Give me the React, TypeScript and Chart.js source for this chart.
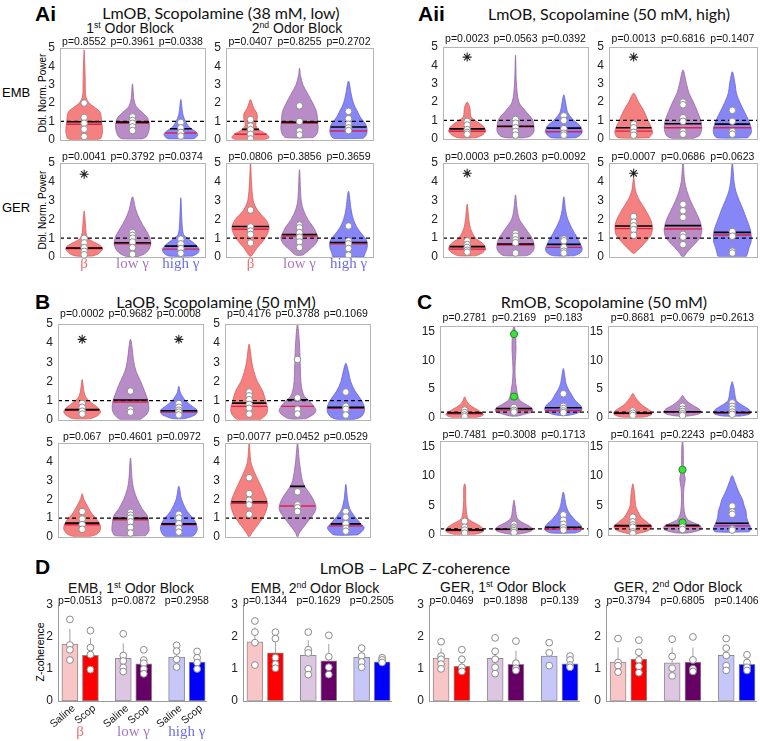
import React, { useEffect, useRef } from "react";
import { Chart, registerables } from "chart.js";

Chart.register(...registerables);

const SANS = "'Liberation Sans', Arial, Helvetica, sans-serif";
const SERIF = "'Liberation Serif', 'Times New Roman', serif";
const TITLE = "Lato, 'Open Sans', sans-serif";
Chart.defaults.font.family = SANS;
Chart.defaults.color = "#222";

// ---------------- data ----------------
const violinCats = [1, 2, 3];
const bandLabels = ["β", "low γ", "high γ"];
const violinTicks = [0, 1, 2, 3, 4, 5];
const rmobTicks = [0, 5, 10, 15];
const barTicks = [0, 1, 2, 3];

// subplot order in each panel: EMB 1st, EMB 2nd, GER 1st, GER 2nd
const aiP = [[0.8552, 0.3961, 0.0338], [0.0407, 0.8255, 0.2702], [0.0041, 0.3792, 0.0374], [0.0806, 0.3856, 0.3659]];
const aiiP = [[0.0023, 0.0563, 0.0392], [0.0013, 0.6816, 0.1407], [0.0003, 0.2603, 0.0092], [0.0007, 0.0686, 0.0623]];
const bP = [[0.0002, 0.9682, 0.0008], [0.4176, 0.3788, 0.1069], [0.067, 0.4601, 0.0972], [0.0077, 0.0452, 0.0529]];
const cP = [[0.2781, 0.2169, 0.183], [0.8681, 0.0679, 0.2613], [0.7481, 0.3008, 0.1713], [0.1641, 0.2243, 0.0483]];

const aiMeans = [[0.98, 0.96, 0.6], [0.57, 0.96, 0.7], [0.48, 0.76, 0.58], [1.62, 1.2, 0.77]];
const aiMedians = [[0.85, 0.9, 0.37], [0.3, 0.9, 0.48], [0.45, 0.7, 0.42], [1.48, 1.12, 0.7]];
const aiiMeans = [[0.54, 0.68, 0.58], [0.6, 0.82, 0.8], [0.54, 0.68, 0.66], [1.64, 1.66, 1.3]];
const aiiMedians = [[0.41, 0.65, 0.38], [0.42, 0.6, 0.6], [0.41, 0.62, 0.5], [1.5, 1.48, 1.16]];
const bMeans = [[0.53, 1.03, 0.47], [0.87, 1.05, 0.65], [0.73, 0.98, 0.69], [1.87, 2.69, 0.69]];
const bMedians = [[0.5, 0.93, 0.4], [0.7, 0.7, 0.6], [0.64, 0.9, 0.64], [1.78, 1.64, 0.58]];
const cMeans = [[0.87, 1.63, 1.74], [0.81, 1.05, 0.93], [0.84, 0.95, 1.3], [1.57, 1.6, 1.97]];
const cMedians = [[0.7, 1.34, 1.28], [0.75, 1.0, 0.82], [0.73, 0.9, 1.0], [1.4, 1.45, 1.52]];

const aiPoints = [
  [[2.0, 1.22, 0.9, 0.58, 0.18], [1.25, 1.05, 0.9, 0.7, 0.5], [0.95, 0.65, 0.4, 0.2]],
  [[1.1, 0.75, 0.55, 0.3, 0.05], [1.85, 1.0, 0.48, 0.27], [1.55, 1.15, 0.85, 0.65, 0.5]],
  [[1.0, 0.75, 0.5, 0.3, 0.12], [1.3, 1.15, 1.0, 0.8, 0.5, 0.15], [0.95, 0.7, 0.45, 0.2]],
  [[2.5, 1.6, 1.38, 1.2, 0.75], [1.7, 1.55, 1.3, 1.05, 0.8, 0.5], [1.65, 0.85, 0.7, 0.45, 0.1]],
];
const aiiPoints = [
  [[0.95, 0.75, 0.5, 0.35, 0.25], [1.05, 0.85, 0.6, 0.4, 0.2], [1.25, 1.0, 0.55, 0.3, 0.2]],
  [[0.8, 0.6, 0.35, 0.2], [2.0, 1.85, 1.15, 0.95, 0.4, 0.25], [1.55, 0.95, 0.4, 0.25]],
  [[0.85, 0.65, 0.5, 0.35, 0.25], [1.25, 1.1, 0.9, 0.75, 0.2], [0.95, 0.85, 0.5, 0.3, 0.2]],
  [[2.15, 1.85, 1.65, 1.45, 1.15], [2.8, 2.45, 2.1, 1.2, 1.05, 0.65], [1.35, 1.1, 0.3, 0.2]],
];
const bPoints = [
  [[0.85, 0.65, 0.45, 0.3], [1.5, 0.55, 0.4], [0.85, 0.65, 0.5, 0.4, 0.25]],
  [[1.45, 1.25, 1.05, 0.8, 0.6, 0.3], [3.15, 1.15, 0.55, 0.3], [1.45, 0.7, 0.55, 0.25]],
  [[1.35, 0.95, 0.65, 0.4], [1.3, 1.15, 1.0, 0.8, 0.5, 0.2], [1.2, 1.0, 0.7, 0.45, 0.25]],
  [[3.15, 2.3, 1.95, 1.7, 1.2], [2.4, 1.7, 1.55, 1.35], [1.35, 1.05, 0.7, 0.45, 0.3]],
];
const cPoints = [
  [[1.35, 0.9, 0.5, 0.2], [1.8, 1.3, 1.0], [4.2, 2.0, 1.6, 1.2, 0.9]],
  [[1.2, 0.8, 0.4], [2.0, 1.5, 1.1, 0.7, 0.4], [2.6, 2.0, 1.5, 1.0, 0.6]],
  [[2.3, 1.3, 0.8, 0.3], [1.8, 1.3, 1.0, 0.7, 0.4], [3.4, 2.5, 1.8, 1.2, 0.8]],
  [[3.0, 2.2, 1.7, 1.3, 0.5, 0.2], [1.3, 0.9], [4.9, 3.9, 3.5, 1.0, 0.8]],
];
const cOutliers = [[[], [14.6, 3.7], []], [[], [], []], [[], [], []], [[], [11.1, 2.1], []]];

const aiStars = [[], [], [0], []];
const aiiStars = [[0], [0], [0], [0]];
const bStars = [[0, 2], [], [], []];

// violin outlines: [y, halfWidth, y, halfWidth, ...] from bottom to top
const aiShapes = [
  [
    [0.02, 0.3, 0.1, 0.35, 0.5, 0.38, 1.0, 0.36, 1.5, 0.33, 1.8, 0.2, 2.0, 0.1, 2.3, 0.04, 2.6, 0.025, 3.5, 0.02, 4.9, 0],
    [0.05, 0.2, 0.15, 0.28, 0.4, 0.33, 0.7, 0.35, 1.0, 0.34, 1.2, 0.31, 1.5, 0.2, 1.8, 0.08, 2.2, 0.03, 3.05, 0],
    [0.05, 0.25, 0.1, 0.3, 0.3, 0.35, 0.5, 0.28, 0.7, 0.17, 1.0, 0.1, 1.3, 0.05, 1.6, 0.03, 2.2, 0],
  ],
  [
    [0.02, 0.3, 0.12, 0.38, 0.3, 0.33, 0.5, 0.2, 0.7, 0.12, 0.9, 0.11, 1.2, 0.14, 1.45, 0.13, 1.7, 0.07, 2.0, 0.03, 2.2, 0],
    [0.12, 0.28, 0.3, 0.35, 0.6, 0.38, 1.0, 0.37, 1.5, 0.35, 2.0, 0.27, 2.5, 0.17, 3.0, 0.07, 3.5, 0.02, 3.9, 0],
    [0.08, 0.3, 0.25, 0.36, 0.5, 0.38, 0.8, 0.36, 1.0, 0.31, 1.2, 0.25, 1.5, 0.19, 2.0, 0.1, 2.5, 0.055, 3.2, 0],
  ],
  [
    [0.05, 0.17, 0.15, 0.28, 0.3, 0.35, 0.45, 0.38, 0.6, 0.34, 0.8, 0.2, 1.0, 0.08, 1.3, 0.04, 1.8, 0.025, 2.45, 0],
    [0.02, 0.1, 0.15, 0.24, 0.4, 0.34, 0.7, 0.38, 1.0, 0.36, 1.2, 0.33, 1.5, 0.26, 2.0, 0.15, 2.5, 0.07, 3.2, 0],
    [0.05, 0.24, 0.2, 0.35, 0.4, 0.38, 0.6, 0.33, 0.8, 0.24, 1.0, 0.14, 1.2, 0.055, 1.8, 0.025, 3.15, 0],
  ],
  [
    [0.05, 0.02, 0.5, 0.14, 0.8, 0.24, 1.2, 0.34, 1.6, 0.38, 2.0, 0.31, 2.2, 0.24, 2.5, 0.14, 3.0, 0.055, 4.0, 0.02, 5.0, 0],
    [0.1, 0.07, 0.4, 0.21, 0.7, 0.33, 1.0, 0.38, 1.3, 0.34, 1.6, 0.28, 2.0, 0.17, 2.5, 0.08, 3.0, 0.035, 4.65, 0],
    [0.0, 0.31, 0.2, 0.34, 0.5, 0.38, 0.8, 0.38, 1.0, 0.34, 1.5, 0.19, 2.0, 0.1, 2.5, 0.055, 3.5, 0],
  ],
];
const aiiShapes = [
  [
    [0.05, 0.17, 0.2, 0.31, 0.4, 0.38, 0.6, 0.36, 0.8, 0.28, 1.0, 0.17, 1.2, 0.08, 1.7, 0.055, 2.0, 0],
    [0.05, 0.17, 0.15, 0.31, 0.4, 0.38, 0.7, 0.38, 1.0, 0.36, 1.2, 0.31, 1.5, 0.21, 2.0, 0.07, 3.0, 0.02, 4.55, 0],
    [0.05, 0.24, 0.2, 0.34, 0.4, 0.38, 0.7, 0.34, 1.0, 0.21, 1.2, 0.14, 1.5, 0.07, 2.0, 0.035, 2.4, 0],
  ],
  [
    [0.05, 0.31, 0.3, 0.38, 0.6, 0.36, 1.0, 0.29, 1.5, 0.21, 2.0, 0.1, 2.48, 0],
    [0.02, 0.21, 0.2, 0.34, 0.6, 0.38, 1.0, 0.36, 1.5, 0.29, 2.0, 0.21, 2.5, 0.12, 3.0, 0.07, 3.75, 0],
    [0.05, 0.31, 0.3, 0.38, 0.6, 0.38, 1.0, 0.33, 1.5, 0.24, 2.0, 0.15, 2.5, 0.08, 3.0, 0.055, 3.65, 0],
  ],
  [
    [0.05, 0.17, 0.2, 0.31, 0.4, 0.38, 0.6, 0.36, 0.8, 0.28, 1.0, 0.17, 1.5, 0.07, 2.0, 0.035, 2.8, 0],
    [0.05, 0.21, 0.15, 0.31, 0.4, 0.38, 0.7, 0.38, 1.0, 0.34, 1.2, 0.29, 1.5, 0.21, 2.0, 0.08, 2.5, 0.035, 3.3, 0],
    [0.05, 0.21, 0.2, 0.34, 0.4, 0.38, 0.7, 0.34, 1.0, 0.28, 1.5, 0.17, 2.0, 0.08, 2.5, 0.035, 3.2, 0],
  ],
  [
    [0.18, 0.01, 0.5, 0.14, 0.9, 0.28, 1.2, 0.36, 1.6, 0.38, 2.0, 0.34, 2.5, 0.24, 3.0, 0.12, 3.5, 0.04, 4.2, 0],
    [0.0, 0.02, 0.2, 0.07, 0.5, 0.17, 0.8, 0.28, 1.1, 0.36, 1.5, 0.38, 2.0, 0.33, 2.5, 0.24, 3.0, 0.15, 3.5, 0.08, 4.0, 0.035, 5.0, 0],
    [0.0, 0.28, 0.2, 0.31, 0.5, 0.34, 0.8, 0.38, 1.2, 0.38, 1.5, 0.36, 2.0, 0.29, 2.5, 0.22, 3.0, 0.14, 3.5, 0.07, 4.0, 0.035, 5.0, 0],
  ],
];
const bShapes = [
  [
    [0.05, 0.17, 0.2, 0.31, 0.4, 0.38, 0.6, 0.34, 0.8, 0.24, 1.0, 0.14, 1.2, 0.07, 1.5, 0.035, 2.1, 0],
    [0.02, 0.21, 0.3, 0.34, 0.6, 0.38, 1.0, 0.36, 1.5, 0.29, 2.0, 0.21, 2.5, 0.12, 3.0, 0.07, 4.2, 0],
    [0.05, 0.1, 0.15, 0.24, 0.3, 0.36, 0.5, 0.38, 0.7, 0.28, 1.0, 0.14, 1.4, 0.035, 1.75, 0],
  ],
  [
    [0.02, 0.24, 0.3, 0.36, 0.6, 0.38, 1.0, 0.34, 1.5, 0.28, 2.0, 0.17, 2.5, 0.1, 3.0, 0.055, 3.95, 0],
    [0.05, 0.17, 0.3, 0.34, 0.5, 0.38, 0.7, 0.34, 1.0, 0.24, 1.2, 0.15, 1.5, 0.1, 2.0, 0.07, 3.0, 0.055, 4.0, 0.04, 5.0, 0],
    [0.02, 0.17, 0.15, 0.31, 0.4, 0.38, 0.7, 0.38, 1.0, 0.33, 1.5, 0.19, 2.0, 0.1, 2.5, 0.055, 2.95, 0],
  ],
  [
    [0.02, 0.17, 0.15, 0.31, 0.4, 0.38, 0.7, 0.36, 1.0, 0.28, 1.2, 0.21, 1.5, 0.14, 2.0, 0.035, 2.3, 0],
    [0.05, 0.31, 0.3, 0.38, 0.6, 0.38, 1.0, 0.36, 1.2, 0.33, 1.5, 0.24, 2.0, 0.14, 2.5, 0.07, 3.0, 0.035, 4.2, 0],
    [0.02, 0.28, 0.15, 0.34, 0.4, 0.38, 0.7, 0.36, 1.0, 0.29, 1.2, 0.22, 1.5, 0.14, 2.0, 0.055, 2.7, 0],
  ],
  [
    [0.0, 0.01, 0.2, 0.055, 0.6, 0.17, 1.0, 0.28, 1.3, 0.34, 1.7, 0.38, 2.0, 0.36, 2.5, 0.28, 3.0, 0.19, 3.5, 0.1, 4.0, 0.035, 5.0, 0],
    [0.0, 0.01, 0.2, 0.035, 0.5, 0.12, 0.9, 0.24, 1.2, 0.33, 1.5, 0.38, 1.8, 0.36, 2.2, 0.28, 2.6, 0.17, 3.0, 0.1, 4.0, 0.04, 5.0, 0],
    [0.1, 0.24, 0.3, 0.34, 0.5, 0.38, 0.7, 0.31, 1.0, 0.21, 1.2, 0.15, 1.5, 0.08, 2.0, 0.035, 2.8, 0],
  ],
];
const cShapes = [
  [
    [0.0, 0.21, 0.3, 0.34, 0.6, 0.38, 1.0, 0.33, 1.5, 0.24, 2.0, 0.14, 2.5, 0.07, 3.0, 0.035, 3.65, 0],
    [0.3, 0.07, 0.6, 0.21, 1.0, 0.36, 1.5, 0.38, 2.0, 0.31, 2.5, 0.21, 3.0, 0.12, 4.0, 0.07, 5.0, 0.055, 6.0, 0.035, 8.0, 0.02, 10.0, 0.028, 12.0, 0.04, 15.0, 0.028, 15.9, 0],
    [0.4, 0.07, 0.6, 0.21, 1.0, 0.34, 1.5, 0.38, 2.0, 0.36, 2.5, 0.31, 3.0, 0.24, 4.0, 0.17, 5.0, 0.1, 6.0, 0.055, 7.0, 0.035, 8.6, 0],
  ],
  [
    [0.1, 0.21, 0.3, 0.31, 0.6, 0.38, 1.0, 0.38, 1.5, 0.31, 2.0, 0.22, 2.5, 0.15, 3.0, 0.1, 3.5, 0.055, 4.25, 0],
    [0.3, 0.1, 0.6, 0.31, 1.0, 0.38, 1.5, 0.34, 2.0, 0.24, 2.5, 0.15, 3.0, 0.083, 3.5, 0.035, 3.9, 0],
    [0.3, 0.17, 0.6, 0.34, 1.0, 0.38, 1.5, 0.33, 2.0, 0.24, 2.5, 0.15, 3.0, 0.083, 4.0, 0.055, 5.0, 0.04, 5.5, 0.028, 6.3, 0],
  ],
  [
    [0.0, 0.17, 0.3, 0.31, 0.6, 0.38, 1.0, 0.38, 1.5, 0.31, 2.0, 0.21, 2.5, 0.1, 3.0, 0.055, 4.0, 0.035, 6.0, 0.02, 8.0, 0.02, 8.7, 0],
    [0.1, 0.07, 0.3, 0.21, 0.6, 0.34, 1.0, 0.38, 1.5, 0.31, 2.0, 0.19, 2.5, 0.1, 3.0, 0.055, 4.0, 0.035, 5.0, 0.02, 5.9, 0],
    [0.3, 0.24, 0.6, 0.34, 1.0, 0.38, 1.5, 0.36, 2.0, 0.31, 2.5, 0.24, 3.0, 0.19, 3.5, 0.14, 4.0, 0.1, 5.0, 0.055, 6.0, 0.035, 7.3, 0],
  ],
  [
    [0.05, 0.035, 0.3, 0.14, 0.6, 0.28, 1.0, 0.36, 1.5, 0.38, 2.0, 0.31, 2.5, 0.24, 3.0, 0.17, 4.0, 0.1, 5.0, 0.055, 7.0, 0.035, 8.7, 0],
    [0.3, 0.1, 0.6, 0.28, 1.0, 0.38, 1.5, 0.36, 2.0, 0.24, 2.5, 0.12, 3.0, 0.07, 4.0, 0.035, 6.0, 0.02, 8.0, 0.028, 9.5, 0.055, 10.5, 0.035, 12.0, 0.02, 15.0, 0.014, 16.0, 0],
    [0.5, 0.34, 1.0, 0.38, 1.5, 0.36, 2.0, 0.33, 3.0, 0.29, 4.0, 0.28, 5.0, 0.24, 6.0, 0.21, 7.0, 0.15, 8.0, 0.1, 9.0, 0.055, 10.1, 0],
  ],
];

// Panel D bars (Saline / Scop for β, low γ, high γ)
const dGroups = ["Saline", "Scop", "Saline", "Scop", "Saline", "Scop"];
const dBarX = [1, 2, 3.6, 4.6, 6.2, 7.2];
const dBandX = [1.5, 4.1, 6.7];
const dP = [[0.0513, 0.0872, 0.2958], [0.1344, 0.1629, 0.2505], [0.0469, 0.1898, 0.139], [0.3794, 0.6805, 0.1406]];
const dMeans = [
  [1.78, 1.43, 1.33, 1.16, 1.37, 1.22],
  [1.85, 1.5, 1.42, 1.25, 1.36, 1.22],
  [1.34, 1.08, 1.33, 1.14, 1.4, 1.16],
  [1.21, 1.31, 1.19, 1.21, 1.42, 1.14],
];
const dErrTop = [
  [2.25, 1.97, 1.8, 1.4, 1.67, 1.4],
  [2.3, 2.04, 1.9, 1.78, 1.56, 1.35],
  [1.64, 1.42, 1.62, 1.57, 1.52, 1.36],
  [1.67, 1.62, 1.67, 1.67, 1.7, 1.42],
];
const dPoints = [
  [[2.55, 1.75, 1.6, 1.28], [2.2, 1.67, 1.45, 0.98], [2.1, 1.42, 1.25, 1.05, 0.92], [1.6, 1.28, 1.18, 1.0, 0.85], [1.74, 1.56, 1.3, 1.06], [1.55, 1.35, 1.2, 1.0]],
  [[2.5, 2.15, 1.82, 1.12], [2.15, 1.95, 1.35, 1.15, 1.02], [2.15, 1.6, 1.5, 1.0, 0.82], [2.05, 1.38, 1.05, 0.82], [1.65, 1.4, 1.22, 1.05], [1.35, 1.28, 1.2]],
  [[1.85, 1.4, 1.3, 1.15, 1.0], [1.6, 1.3, 1.05, 0.92], [1.97, 1.55, 1.3, 1.05, 0.85], [1.87, 1.18, 1.02, 0.95], [1.82, 1.5, 1.1], [1.4, 1.28, 1.12, 1.05]],
  [[1.95, 1.2, 1.1, 0.9], [1.9, 1.52, 1.28, 1.08, 0.88], [1.93, 1.39, 1.02, 0.78], [2.0, 1.28, 1.0, 0.92], [1.95, 1.65, 1.42, 1.1, 0.95], [1.44, 1.2, 1.05, 0.95]],
];

// ---------------- styles / layout ----------------
const violinFill = ["rgb(245,128,128)", "rgb(184,140,198)", "rgb(134,134,246)"];
const violinEdge = ["rgb(215,95,95)", "rgb(148,104,165)", "rgb(100,100,215)"];
const bandColors = ["#ef6f6f", "#a676bf", "#6c6ce4"];
const dColors = ["#f8c6c6", "#ff0000", "#dcc6e2", "#660066", "#c6c6f8", "#0000ff"];

type Rect = [number, number, number, number];
const aiRects: Rect[] = [[60, 48, 205, 140], [226, 48, 373, 140], [60, 163, 205, 257], [226, 163, 373, 257]];
const aiiRects: Rect[] = [[443, 47, 588, 139], [609, 47, 757, 139], [443, 163, 588, 257], [609, 163, 757, 257]];
const bRects: Rect[] = [[58, 324, 203, 420], [225, 324, 370, 420], [58, 443, 203, 537], [225, 443, 370, 537]];
const cRects: Rect[] = [[440, 326, 588, 418], [608, 326, 757, 418], [440, 441, 588, 535], [608, 441, 757, 535]];
const dRects: Rect[] = [[58, 605, 207, 701], [243, 605, 392, 701], [429, 605, 580, 701], [606, 605, 757, 701]];

function widthAt(shape: number[], y: number) {
  const n = shape.length / 2;
  if (y <= shape[0]) return shape[1];
  for (let i = 0; i < n - 1; i++) {
    const y0 = shape[2 * i], w0 = shape[2 * i + 1], y1 = shape[2 * i + 2], w1 = shape[2 * i + 3];
    if (y >= y0 && y <= y1) return w0 + ((w1 - w0) * (y - y0)) / (y1 - y0);
  }
  return 0;
}

function outline(shape: number[], cx: number) {
  const n = shape.length / 2;
  const right: any[] = [];
  const left: any[] = [];
  for (let i = 0; i < n; i++) right.push({ x: cx + shape[2 * i + 1], y: shape[2 * i] });
  for (let i = n - 1; i >= 0; i--) left.push({ x: cx - shape[2 * i + 1], y: shape[2 * i] });
  left.shift();
  return [...right, ...left, right[0]];
}

function overlayPlugin(o: any) {
  return {
    id: "overlay",
    afterDraw(chart: any) {
      const { ctx, chartArea: a, scales } = chart;
      const xs = scales.x;
      ctx.save();
      if (o.frame) {
        ctx.strokeStyle = "#b4b4b4";
        ctx.lineWidth = 1;
        ctx.strokeRect(Math.round(a.left) + 0.5, Math.round(a.top) + 0.5, Math.round(a.right - a.left), Math.round(a.bottom - a.top));
      } else {
        ctx.strokeStyle = "#9a9a9a";
        ctx.lineWidth = 1;
        ctx.beginPath();
        ctx.moveTo(a.left, Math.round(a.bottom) + 0.5);
        ctx.lineTo(a.right, Math.round(a.bottom) + 0.5);
        ctx.stroke();
      }
      ctx.fillStyle = "#111";
      ctx.font = `10.5px ${SANS}`;
      ctx.textAlign = "center";
      ctx.textBaseline = "middle";
      o.pvals.forEach((p: number, i: number) => ctx.fillText("p=" + p, xs.getPixelForValue(o.pX[i]), a.top - o.pGap));
      if (o.groups) {
        ctx.font = `10.5px ${SANS}`;
        ctx.fillStyle = "#111";
        ctx.textAlign = "right";
        o.groups.forEach((g: string, i: number) => {
          ctx.save();
          ctx.translate(xs.getPixelForValue(o.groupX[i]) + 4, a.bottom + 6);
          ctx.rotate((-40 * Math.PI) / 180);
          ctx.fillText(g, 0, 0);
          ctx.restore();
        });
      }
      if (o.bands) {
        ctx.font = `15px ${SERIF}`;
        ctx.textAlign = "center";
        o.bands.forEach((b: string, i: number) => {
          ctx.fillStyle = bandColors[i];
          ctx.fillText(b, xs.getPixelForValue(o.bandX[i]), a.bottom + o.bandGap);
        });
      }
      ctx.restore();
    },
  };
}

function baseOptions(pad: number[], xmin: number, xmax: number, ymax: number, ticks: number[], yBorder: boolean) {
  const [padL, padT, padR, padB] = pad;
  return {
    responsive: false,
    animation: false,
    devicePixelRatio: 1,
    events: [],
    layout: { padding: { left: 0, top: padT, right: padR, bottom: padB } },
    plugins: { legend: { display: false }, tooltip: { enabled: false } },
    scales: {
      x: { type: "linear", min: xmin, max: xmax, display: false, offset: false },
      y: {
        type: "linear",
        min: 0,
        max: ymax,
        afterFit: (s: any) => {
          s.width = padL;
        },
        afterBuildTicks: (s: any) => {
          s.ticks = ticks.map((v) => ({ value: v }));
        },
        grid: { display: false, drawTicks: false },
        border: { display: yBorder, color: "#9a9a9a", width: 1 },
        ticks: { padding: 5, color: "#222", font: { size: 12, family: SANS } },
      },
    },
  };
}

function violinChart(s: any, pad: number[]) {
  const datasets: any[] = [];
  const white: any[] = [];
  s.points.forEach((arr: number[], i: number) => arr.forEach((v) => white.push({ x: violinCats[i], y: v })));
  datasets.push({ data: white, showLine: false, pointRadius: 3.3, pointBackgroundColor: "#ffffff", pointBorderColor: "#8f8f8f", pointBorderWidth: 1 });
  if (s.green) {
    const g: any[] = [];
    s.green.forEach((arr: number[], i: number) => arr.forEach((v) => g.push({ x: violinCats[i], y: v })));
    if (g.length) datasets.push({ data: g, showLine: false, pointRadius: 3.6, pointBackgroundColor: "#3ee03e", pointBorderColor: "#1f8f1f", pointBorderWidth: 1 });
  }
  if (s.stars && s.stars.length) {
    datasets.push({ data: s.stars.map((i: number) => ({ x: violinCats[i], y: s.starY })), showLine: false, pointStyle: "star", pointRadius: 4.5, pointBorderColor: "#222", pointBackgroundColor: "#222", pointBorderWidth: 1.1 });
  }
  violinCats.forEach((c, i) => {
    const w = widthAt(s.shapes[i], s.means[i]);
    datasets.push({ data: [{ x: c - w, y: s.means[i] }, { x: c + w, y: s.means[i] }], borderColor: "#000", borderWidth: 1.6, pointRadius: 0 });
  });
  violinCats.forEach((c, i) => {
    const w = widthAt(s.shapes[i], s.medians[i]);
    datasets.push({ data: [{ x: c - w, y: s.medians[i] }, { x: c + w, y: s.medians[i] }], borderColor: "#e0204a", borderWidth: 1.4, pointRadius: 0 });
  });
  datasets.push({ data: [{ x: 0.5, y: 1 }, { x: 3.5, y: 1 }], borderColor: "#000", borderWidth: 1.2, borderDash: [4, 3], pointRadius: 0 });
  violinCats.forEach((c, i) => {
    datasets.push({ data: outline(s.shapes[i], c), fill: "shape", backgroundColor: violinFill[i], borderColor: violinEdge[i], borderWidth: 0.8, pointRadius: 0, tension: 0.3 });
  });
  return {
    type: "line",
    data: { datasets },
    options: baseOptions(pad, 0.5, 3.5, s.ymax, s.ticks, false),
    plugins: [
      overlayPlugin({ frame: true, pvals: s.p, pX: violinCats, pGap: s.pGap, bands: s.bands ? bandLabels : null, bandX: violinCats, bandGap: 7 }),
    ],
  };
}

function barChart(k: number, pad: number[], labels: boolean) {
  const datasets: any[] = [];
  const pts: any[] = [];
  dPoints[k].forEach((arr, i) => arr.forEach((v) => pts.push({ x: dBarX[i], y: v })));
  datasets.push({ type: "line", data: pts, showLine: false, pointRadius: 3.4, pointBackgroundColor: "#ffffff", pointBorderColor: "#8a8a8a", pointBorderWidth: 1 });
  dBarX.forEach((x, i) => {
    datasets.push({ type: "line", data: [{ x, y: dMeans[k][i] }, { x, y: dErrTop[k][i] }], borderColor: "#a0a0a0", borderWidth: 1, pointRadius: 0 });
  });
  datasets.push({
    type: "bar",
    data: dBarX.map((x, i) => ({ x, y: dMeans[k][i] })),
    backgroundColor: dColors,
    borderColor: "#8c8c8c",
    borderWidth: 1,
    borderSkipped: false,
    barThickness: 16,
  });
  return {
    type: "bar",
    data: { datasets },
    options: baseOptions(pad, 0.42, 7.68, 3, barTicks, true),
    plugins: [
      overlayPlugin({
        frame: false,
        pvals: dP[k],
        pX: dBandX,
        pGap: 3.5,
        groups: labels ? dGroups : null,
        groupX: dBarX,
        bands: labels ? bandLabels : null,
        bandX: dBandX,
        bandGap: 31,
      }),
    ],
  };
}

function ChartCanvas({ rect, pad, make }: { rect: Rect; pad: number[]; make: (pad: number[]) => any }) {
  const ref = useRef<HTMLCanvasElement>(null);
  const [padL, padT, padR, padB] = pad;
  const w = rect[2] - rect[0] + padL + padR;
  const h = rect[3] - rect[1] + padT + padB;
  useEffect(() => {
    const chart = new Chart(ref.current as HTMLCanvasElement, make(pad) as any);
    return () => chart.destroy();
  }, []);
  return (
    <canvas
      ref={ref}
      width={w}
      height={h}
      style={{ position: "absolute", left: rect[0] - padL, top: rect[1] - padT, width: w, height: h }}
    />
  );
}

function Txt({ x, y, a, r, s, children }: any) {
  const tx = a === "l" ? "0" : "-50%";
  return (
    <div
      style={{
        position: "absolute",
        left: x,
        top: y,
        transform: `translate(${tx}, -50%)${r ? ` rotate(${r}deg)` : ""}`,
        whiteSpace: "nowrap",
        lineHeight: 1,
        ...s,
      }}
    >
      {children}
    </div>
  );
}

const sup = { fontSize: "0.62em", verticalAlign: "0.55em", lineHeight: 0 };
const letter = { fontFamily: SANS, fontWeight: 700, fontSize: 21, color: "#000" };
const title = { fontFamily: TITLE, fontSize: 16, color: "#111" };
const sub = { fontFamily: SANS, fontSize: 14, color: "#111" };

export default function App() {
  const vPad = [28, 20, 6, 12];
  const vPadLab = [28, 20, 6, 22];
  const panels: any[] = [];
  aiRects.forEach((r, k) =>
    panels.push(
      <ChartCanvas key={"ai" + k} rect={r} pad={k >= 2 ? vPadLab : vPad}
        make={(pad) => violinChart({ p: aiP[k], means: aiMeans[k], medians: aiMedians[k], points: aiPoints[k], shapes: aiShapes[k], stars: aiStars[k], starY: 4.4, ymax: 5, ticks: violinTicks, pGap: 6, bands: k >= 2 }, pad)} />
    )
  );
  aiiRects.forEach((r, k) =>
    panels.push(
      <ChartCanvas key={"aii" + k} rect={r} pad={vPad}
        make={(pad) => violinChart({ p: aiiP[k], means: aiiMeans[k], medians: aiiMedians[k], points: aiiPoints[k], shapes: aiiShapes[k], stars: aiiStars[k], starY: 4.45, ymax: 5, ticks: violinTicks, pGap: k < 2 ? 7.5 : 6 }, pad)} />
    )
  );
  bRects.forEach((r, k) =>
    panels.push(
      <ChartCanvas key={"b" + k} rect={r} pad={vPad}
        make={(pad) => violinChart({ p: bP[k], means: bMeans[k], medians: bMedians[k], points: bPoints[k], shapes: bShapes[k], stars: bStars[k], starY: 4.2, ymax: 5, ticks: violinTicks, pGap: k < 2 ? 10 : 6 }, pad)} />
    )
  );
  cRects.forEach((r, k) =>
    panels.push(
      <ChartCanvas key={"c" + k} rect={r} pad={vPad}
        make={(pad) => violinChart({ p: cP[k], means: cMeans[k], medians: cMedians[k], points: cPoints[k], green: cOutliers[k], shapes: cShapes[k], stars: [], starY: 0, ymax: 16, ticks: rmobTicks, pGap: k < 2 ? 8 : 5.5 }, pad)} />
    )
  );
  dRects.forEach((r, k) =>
    panels.push(
      <ChartCanvas key={"d" + k} rect={r} pad={k === 0 ? [28, 20, 6, 44] : [28, 20, 6, 12]} make={(pad) => barChart(k, pad, k === 0)} />
    )
  );

  return (
    <div style={{ position: "absolute", left: 0, top: 0, width: 760, height: 741, overflow: "hidden", background: "#fff", fontFamily: SANS }}>
      <Txt x={35} y={13} a="l" s={letter}>Ai</Txt>
      <Txt x={221} y={13} s={title}>LmOB, Scopolamine (38 mM, low)</Txt>
      <Txt x={130} y={28} s={sub}>1<sup style={sup}>st</sup> Odor Block</Txt>
      <Txt x={297} y={28} s={sub}>2<sup style={sup}>nd</sup> Odor Block</Txt>
      <Txt x={2} y={92} a="l" s={{ fontFamily: SANS, fontSize: 13 }}>EMB</Txt>
      <Txt x={2} y={207} a="l" s={{ fontFamily: SANS, fontSize: 13 }}>GER</Txt>
      <Txt x={43} y={93} r={-90} s={{ fontFamily: SANS, fontSize: 10 }}>Dbl. Norm. Power</Txt>
      <Txt x={43} y={210} r={-90} s={{ fontFamily: SANS, fontSize: 10 }}>Dbl. Norm. Power</Txt>

      <Txt x={418} y={13} a="l" s={letter}>Aii</Txt>
      <Txt x={609} y={14} s={title}>LmOB, Scopolamine (50 mM, high)</Txt>

      <Txt x={35} y={301} a="l" s={letter}>B</Txt>
      <Txt x={216} y={302} s={title}>LaOB, Scopolamine (50 mM)</Txt>

      <Txt x={417} y={301} a="l" s={letter}>C</Txt>
      <Txt x={604} y={302} s={title}>RmOB, Scopolamine (50 mM)</Txt>

      <Txt x={35} y={566} a="l" s={letter}>D</Txt>
      <Txt x={415} y={568} s={title}>LmOB – LaPC Z-coherence</Txt>
      <Txt x={131} y={588} s={sub}>EMB, 1<sup style={sup}>st</sup> Odor Block</Txt>
      <Txt x={315} y={588} s={sub}>EMB, 2<sup style={sup}>nd</sup> Odor Block</Txt>
      <Txt x={503} y={587} s={sub}>GER, 1<sup style={sup}>st</sup> Odor Block</Txt>
      <Txt x={678} y={587} s={sub}>GER, 2<sup style={sup}>nd</sup> Odor Block</Txt>
      <Txt x={40} y={652} r={-90} s={{ fontFamily: SANS, fontSize: 10.5 }}>Z-coherence</Txt>

      {panels}
    </div>
  );
}
